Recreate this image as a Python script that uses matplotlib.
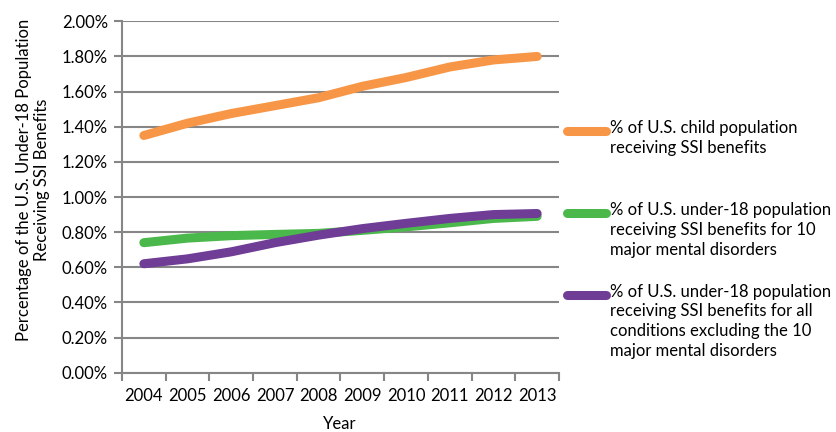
import matplotlib
matplotlib.use("Agg")
import matplotlib.pyplot as plt
from matplotlib.lines import Line2D
import numpy as np

plt.rcParams['font.family'] = ['Lato', 'DejaVu Sans']

years = ['2004', '2005', '2006', '2007', '2008', '2009', '2010', '2011', '2012', '2013']
child_all = [1.35, 1.42, 1.475, 1.52, 1.565, 1.63, 1.68, 1.74, 1.78, 1.80]
mental10 = [0.74, 0.766, 0.78, 0.787, 0.793, 0.81, 0.83, 0.853, 0.878, 0.89]
other = [0.62, 0.648, 0.688, 0.74, 0.783, 0.82, 0.85, 0.878, 0.90, 0.906]
labels = ['% of U.S. child population\nreceiving SSI benefits',
          '% of U.S. under-18 population\nreceiving SSI benefits for 10\nmajor mental disorders',
          '% of U.S. under-18 population\nreceiving SSI benefits for all\nconditions excluding the 10\nmajor mental disorders']
colors = ['#F79646', '#4BB84B', '#6F3C96']
yticks = [0.0, 0.2, 0.4, 0.6, 0.8, 1.0, 1.2, 1.4, 1.6, 1.8, 2.0]

W, H = 837, 432
fs = 12
fig = plt.figure(figsize=(W/100, H/100), dpi=100)
ax = fig.add_axes([122/W, 1-372.7/H, (559-122)/W, (372.7-21.3)/H])

x = np.arange(len(years))
series = [child_all, mental10, other]
for s, c in zip(series, colors):
    ax.plot(x, s, color=c, lw=6.5, solid_capstyle='round', solid_joinstyle='round', zorder=3)

ax.set_xlim(-0.5, len(years)-0.5)
ax.set_ylim(0, 2.0)
ax.set_yticks(yticks)
ax.set_yticklabels([f'{v:.2f}%' for v in yticks], fontsize=fs)
ax.set_xticks(np.arange(-0.5, len(years)), minor=False)
ax.set_xticklabels([])
ax.set_xticks(x, minor=True)
ax.set_xticklabels(years, minor=True, fontsize=fs)
ax.tick_params(axis='x', which='minor', length=0, pad=11)
ax.tick_params(axis='x', which='major', length=6, width=1.5, color='#868686', direction='out')
ax.tick_params(axis='y', length=6, width=1.5, color='#868686', direction='out', pad=4)
ax.grid(axis='y', color='#868686', lw=1.5, zorder=0)
for side in ['top', 'right']:
    ax.spines[side].set_visible(False)
for side in ['left', 'bottom']:
    ax.spines[side].set_color('#868686')
    ax.spines[side].set_linewidth(1.5)

fig.text(340/W, 1-424/H, 'Year', ha='center', va='center', fontsize=fs)
fig.text(33/W, 1-180/H, 'Percentage of the U.S. Under-18 Population\nReceiving SSI Benefits',
         ha='center', va='center', rotation=90, fontsize=fs, linespacing=1.1)

leg_y = [130.7, 212.7, 294.5]
for yy, c, lab in zip(leg_y, colors, labels):
    fig.add_artist(Line2D([567/W, 606/W], [1-yy/H, 1-yy/H], color=c, lw=6.5,
                          solid_capstyle='round', transform=fig.transFigure))
    fig.text(610/W, 1-(yy-11)/H, lab, ha='left', va='top', fontsize=fs, linespacing=1.3)

fig.savefig('out.png', dpi=100)
